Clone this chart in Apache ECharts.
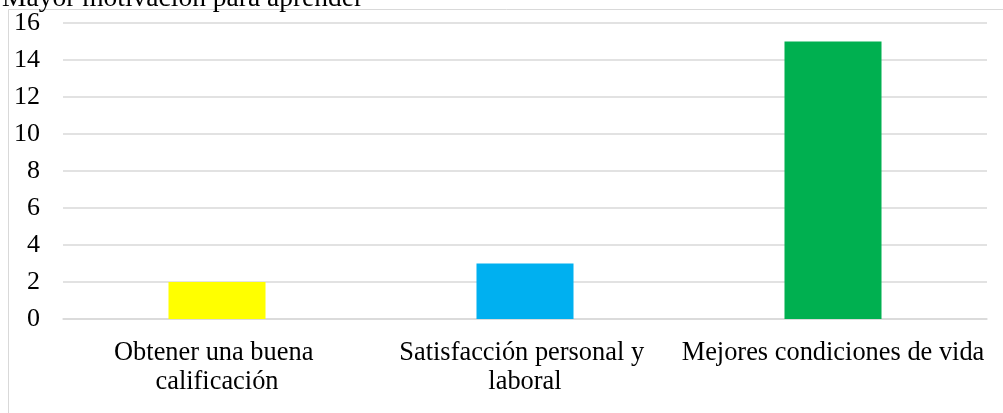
<!DOCTYPE html>
<html>
<head>
<meta charset="utf-8">
<script src="https://cdn.jsdelivr.net/npm/echarts@6/dist/echarts.min.js"></script>
<style>
  html, body { margin: 0; padding: 0; background: #fff; }
  #chart-container { width: 1003px; height: 413px; }
</style>
</head>
<body>
<div id="chart-container"></div>
<script>
var categories = ['Obtener una buena calificación', 'Satisfacción personal y laboral', 'Mejores condiciones de vida'];
var values = [2, 3, 15];
var barColors = ['#FFFF00', '#00B0F0', '#00B050'];
var chartTitle = 'Mayor motivación para aprender';

var dom = document.getElementById('chart-container');
var myChart = echarts.init(dom, null, { renderer: 'canvas' });

var font = "'Liberation Serif', 'Times New Roman', serif";

var option = {
    animation: false,
    backgroundColor: '#fff',
    title: {
        text: chartTitle,
        left: 2,
        top: -15,
        padding: 0,
        textStyle: { fontFamily: font, fontSize: 27.5, fontWeight: 'normal', color: '#000' }
    },
    graphic: [{
        type: 'rect',
        shape: { x: 8.5, y: 9.5, width: 1100, height: 500 },
        style: { fill: null, stroke: '#D9D9D9', lineWidth: 1 },
        silent: true
    }],
    grid: { left: 63, right: 16, top: 23, bottom: 94 },
    xAxis: {
        type: 'category',
        data: categories,
        axisLine: { show: true, lineStyle: { color: '#D9D9D9', width: 1.5 } },
        axisTick: { show: false },
        axisLabel: {
            fontFamily: font, fontSize: 26.4, color: '#000', margin: 20,
            lineHeight: 29, width: 310, overflow: 'break', interval: 0
        }
    },
    yAxis: {
        type: 'value',
        min: 0,
        max: 16,
        interval: 2,
        axisLine: { show: false },
        axisTick: { show: false },
        splitLine: { lineStyle: { color: '#D9D9D9', width: 1.5 } },
        axisLabel: { fontFamily: font, fontSize: 26, color: '#000', margin: 23 }
    },
    series: [{
        type: 'bar',
        data: values.map(function (v, i) {
            return { value: v, itemStyle: { color: barColors[i] } };
        }),
        barWidth: '31.5%'
    }]
};

myChart.setOption(option);
window.addEventListener('resize', myChart.resize);
</script>
</body>
</html>
